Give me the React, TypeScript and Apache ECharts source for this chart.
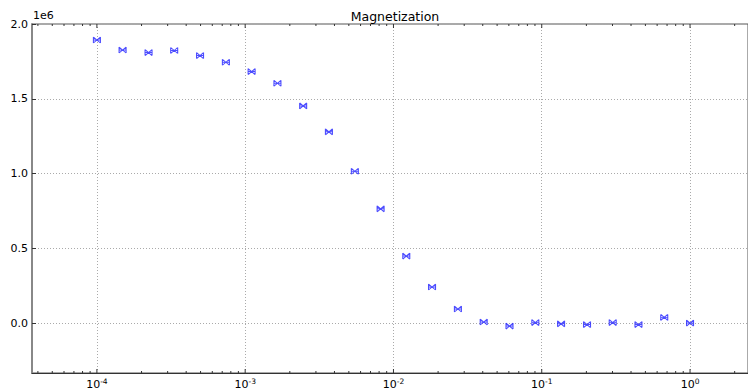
import React, { useEffect, useRef } from "react";
import * as echarts from "echarts";

const TITLE = "Magnetization";
const OFFSET_TEXT = "1e6";

// x values (field / parameter), log-spaced
const xValues = [
  1.0e-4, 1.49e-4, 2.23e-4, 3.32e-4, 4.96e-4, 7.41e-4, 1.105e-3, 1.65e-3,
  2.46e-3, 3.67e-3, 5.49e-3, 8.19e-3, 1.22e-2, 1.82e-2, 2.72e-2, 4.06e-2,
  6.06e-2, 9.05e-2, 0.135, 0.202, 0.301, 0.449, 0.67, 1.0,
];

// magnetization values
const yValues = [
  1893000, 1826000, 1809000, 1823000, 1789000, 1744000, 1682000, 1604000,
  1452000, 1279000, 1015000, 764000, 448000, 241000, 94000, 7000, -20000,
  3000, -5000, -10000, 3000, -10000, 38000, 0,
];

const X_MIN = 3.65e-5;
const X_MAX = 2.46;
const Y_MIN = -334000;
const Y_MAX = 2000000;

const majorDecades = [-4, -3, -2, -1, 0];
const minorDecades = [-5, -4, -3, -2, -1, 0];
const minorMultipliers = [2, 3, 4, 5, 6, 7, 8, 9];

const FONT = "DejaVu Sans";

export default function App() {
  const ref = useRef<HTMLDivElement>(null);

  useEffect(() => {
    if (!ref.current) return;
    const chart = echarts.init(ref.current, null, { renderer: "svg" });

    const tickData: number[][] = [];
    majorDecades.forEach((d) => tickData.push([Math.pow(10, d), 0, 4]));
    minorDecades.forEach((d) =>
      minorMultipliers.forEach((m) => {
        const v = m * Math.pow(10, d);
        if (v > X_MIN && v < X_MAX) tickData.push([v, 0, 2]);
      })
    );

    const points = xValues.map((x, i) => [x, yValues[i]]);

    chart.setOption({
      animation: false,
      backgroundColor: "#ffffff",
      title: {
        text: TITLE,
        left: 390,
        textAlign: "center",
        top: 5,
        textStyle: {
          fontFamily: FONT,
          fontSize: 12.5,
          fontWeight: "normal",
          color: "#000",
        },
      },
      graphic: [
        {
          type: "text",
          left: 33,
          top: 10,
          style: {
            text: OFFSET_TEXT,
            fontFamily: FONT,
            fontSize: 11,
            fill: "#000",
          },
        },
      ],
      grid: {
        left: 32,
        right: 0,
        top: 24,
        bottom: 19,
        show: true,
        borderColor: "#555",
        borderWidth: 1,
        backgroundColor: "transparent",
      },
      xAxis: {
        type: "log",
        logBase: 10,
        min: X_MIN,
        max: X_MAX,
        axisLine: { show: true, onZero: false, lineStyle: { color: "#333", width: 1 } },
        axisTick: { show: false },
        splitLine: {
          show: true,
          lineStyle: { color: "#aaa", type: [1, 2], width: 1 },
        },
        axisLabel: {
          showMinLabel: false,
          showMaxLabel: false,
          margin: 4,
          fontFamily: FONT,
          fontSize: 11,
          color: "#000",
          formatter: (v: number) => {
            const e = Math.round(Math.log10(v));
            return "{b|10}{e|" + e + "}";
          },
          rich: {
            b: { fontFamily: FONT, fontSize: 11, color: "#000", lineHeight: 15 },
            e: {
              fontFamily: FONT,
              fontSize: 7.5,
              color: "#000",
              verticalAlign: "top",
              lineHeight: 8,
            },
          },
        },
      },
      yAxis: {
        type: "value",
        min: Y_MIN,
        max: Y_MAX,
        axisLine: { show: true, lineStyle: { color: "#888", width: 2 } },
        axisTick: {
          show: true,
          inside: true,
          length: 4,
          lineStyle: { color: "#333" },
        },
        splitLine: {
          show: true,
          lineStyle: { color: "#aaa", type: [1, 2], width: 1 },
        },
        axisLabel: {
          showMinLabel: false,
          margin: 4,
          fontFamily: FONT,
          fontSize: 11,
          color: "#000",
          formatter: (v: number) => (v / 1e6).toFixed(1),
        },
      },
      series: [
        {
          type: "scatter",
          data: points,
          symbol: "path://M0,0L8,8M0,8L8,0M0,0L0,8M8,0L8,8M0,4L8,4",
          symbolSize: [7, 6],
          itemStyle: {
            color: "transparent",
            borderColor: "#1f1fff",
            borderWidth: 1,
          },
          z: 5,
        },
        {
          type: "custom",
          silent: true,
          clip: false,
          data: tickData,
          z: 4,
          renderItem: (params: any, api: any) => {
            const x = api.coord([api.value(0), Y_MIN])[0];
            const len = api.value(2);
            const cs = params.coordSys;
            const yb = cs.y + cs.height;
            const yt = cs.y;
            const style = { stroke: "#333", lineWidth: 1 };
            return {
              type: "group",
              children: [
                { type: "line", shape: { x1: x, y1: yb, x2: x, y2: yb - len }, style },
                { type: "line", shape: { x1: x, y1: yt, x2: x, y2: yt + len }, style },
              ],
            };
          },
        },
      ],
    });

    return () => chart.dispose();
  }, []);

  return (
    <div
      ref={ref}
      style={{ position: "fixed", left: 0, top: 0, width: 748, height: 392 }}
    />
  );
}
